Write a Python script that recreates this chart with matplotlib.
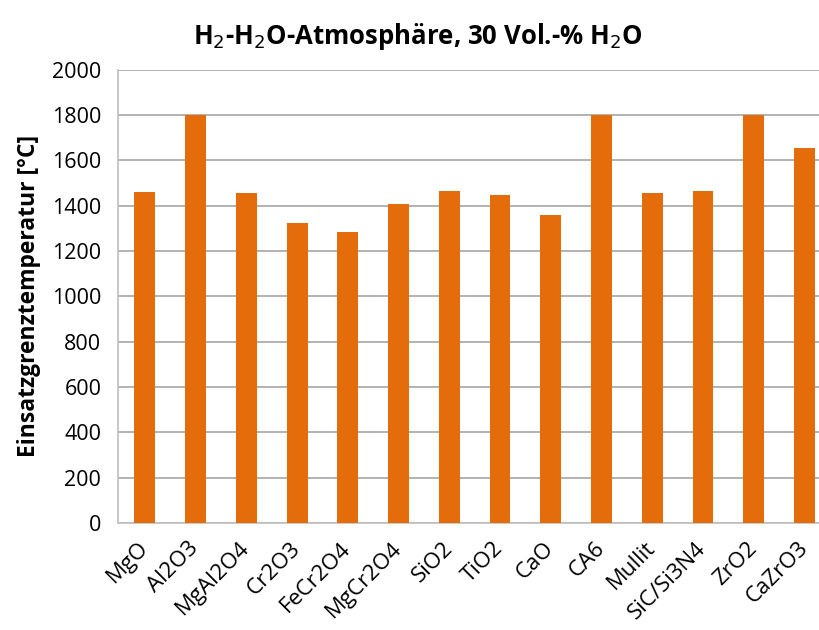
import numpy as np
import matplotlib.pyplot as plt

plt.rcParams['font.family'] = ['Open Sans', 'DejaVu Sans']

materialien = ['MgO', 'Al2O3', 'MgAl2O4', 'Cr2O3', 'FeCr2O4', 'MgCr2O4', 'SiO2',
               'TiO2', 'CaO', 'CA6', 'Mullit', 'SiC/Si3N4', 'ZrO2', 'CaZrO3']
temperatur = [1460, 1800, 1457, 1325, 1283, 1407, 1462,
              1448, 1360, 1800, 1455, 1462, 1800, 1655]
y_ticks = [0, 200, 400, 600, 800, 1000, 1200, 1400, 1600, 1800, 2000]

fig = plt.figure(figsize=(8.2, 6.3), dpi=100)
ax = fig.add_axes([118/820, 1 - 523/630, 1 - 118/820, (523 - 69.5)/630])

x = np.arange(len(materialien))
ax.bar(x, temperatur, width=0.41, color='#E46C0A', zorder=3)

ax.set_ylim(0, 2000)
ax.set_xlim(-0.53, 13.305)
ax.set_yticks(y_ticks)
ax.set_xticks(x)
ax.set_xticklabels(materialien, rotation=45, ha='right', va='center',
                   rotation_mode='anchor')
ax.tick_params(axis='both', length=0, colors='#000000')
ax.tick_params(axis='y', pad=12, labelsize=15.5)
ax.tick_params(axis='x', pad=16, labelsize=16)

ax.grid(axis='y', color='#a6a6a6', linewidth=1.2, zorder=0)
for s in ['top', 'right']:
    ax.spines[s].set_visible(False)
for s in ['left', 'bottom']:
    ax.spines[s].set_color('#bfbfbf')
    ax.spines[s].set_linewidth(1.2)

ax.set_ylabel('Einsatzgrenztemperatur [°C]', fontsize=16.5, fontweight='bold', labelpad=8)
fig.text(0.51, 0.942, 'H$_2$-H$_2$O-Atmosphäre, 30 Vol.-% H$_2$O',
         ha='center', va='center', fontsize=18.5, fontweight='bold')

plt.savefig('out.png', dpi=100)
